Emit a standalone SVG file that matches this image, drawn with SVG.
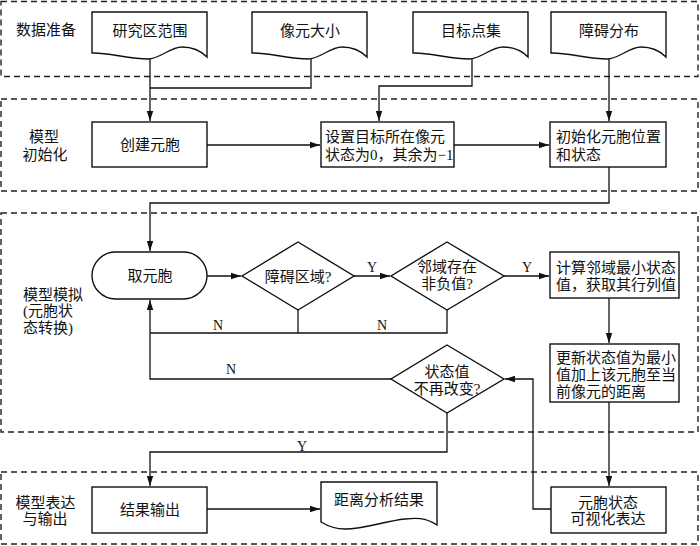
<svg xmlns="http://www.w3.org/2000/svg" width="700" height="546" viewBox="0 0 700 546">
<defs>
<style>
.panel{fill:none;stroke:#222;stroke-width:1.4;stroke-dasharray:6,4}
.box{fill:#fff;stroke:#111;stroke-width:1.4}
.ln{fill:none;stroke:#111;stroke-width:1.3}
.t{font-family:"Liberation Serif","Noto Sans CJK SC",serif;font-size:15px;fill:#111}
.c{text-anchor:middle}
.yn{font-family:"Liberation Serif",serif;font-size:14px;fill:#111;text-anchor:middle}
</style>
<marker id="ar" markerWidth="11" markerHeight="8" refX="10" refY="4" orient="auto" markerUnits="userSpaceOnUse">
<path d="M0,0.8 L10,4 L0,7.2 Z" fill="#111"/>
</marker>
</defs>
<rect width="700" height="546" fill="#fff"/>
<g id="panels">
<rect class="panel" x="1" y="1.5" width="697" height="75"/>
<rect class="panel" x="1" y="99" width="697" height="92"/>
<rect class="panel" x="1" y="213" width="697" height="219"/>
<rect class="panel" x="1" y="472" width="697" height="72"/>
</g>
<g id="labels">
<text class="t c" x="46" y="35">数据准备</text>
<text class="t c" x="44" y="142">模型</text>
<text class="t c" x="45" y="160">初始化</text>
<text class="t" x="23" y="300">模型模拟</text>
<text class="t" x="23" y="316">(元胞状</text>
<text class="t" x="23" y="333">态转换)</text>
<text class="t c" x="45.5" y="508">模型表达</text>
<text class="t c" x="45" y="524">与输出</text>
</g>
<g id="connectors">
<path class="ln" d="M150,58 V121" marker-end="url(#ar)"/>
<path class="ln" d="M311,58 V88 H150"/>
<path class="ln" d="M472,58 V86 H379 V121" marker-end="url(#ar)"/>
<path class="ln" d="M609,58 V121" marker-end="url(#ar)"/>
<path class="ln" d="M207,145 H320" marker-end="url(#ar)"/>
<path class="ln" d="M454,145 H549" marker-end="url(#ar)"/>
<path class="ln" d="M609,167 V203 H150 V251" marker-end="url(#ar)"/>
<path class="ln" d="M207,276 H241" marker-end="url(#ar)"/>
<path class="ln" d="M354,276 H390" marker-end="url(#ar)"/>
<path class="ln" d="M504,276 H549" marker-end="url(#ar)"/>
<path class="ln" d="M298,310 V333"/>
<path class="ln" d="M447,310 V333 H150"/>
<path class="ln" d="M391,379 H150 V300" marker-end="url(#ar)"/>
<path class="ln" d="M609,298 V343" marker-end="url(#ar)"/>
<path class="ln" d="M609,402 V486" marker-end="url(#ar)"/>
<path class="ln" d="M551,509 H533 V379 H505" marker-end="url(#ar)"/>
<path class="ln" d="M447,413 V452 H150 V486" marker-end="url(#ar)"/>
<path class="ln" d="M207,509 H320" marker-end="url(#ar)"/>
<text class="yn" x="372" y="272">Y</text>
<text class="yn" x="527" y="272">Y</text>
<text class="yn" x="218" y="330">N</text>
<text class="yn" x="382" y="330">N</text>
<text class="yn" x="231" y="374">N</text>
<text class="yn" x="302" y="451">Y</text>
</g>
<g id="doc1">
<path class="box" d="M92,12 H207 V57 C200,50 192,47 182,47 C170,47 160,59 148,59 C130,59 105,52 92,53 Z"/>
<text class="t c" x="150" y="36">研究区范围</text>
</g>
<g id="doc2">
<path class="box" d="M252,12 H367 V57 C360,50 352,47 342,47 C330,47 320,59 308,59 C290,59 265,52 252,53 Z"/>
<text class="t c" x="310" y="36">像元大小</text>
</g>
<g id="doc3">
<path class="box" d="M413,12 H528 V57 C521,50 513,47 503,47 C491,47 481,59 469,59 C451,59 426,52 413,53 Z"/>
<text class="t c" x="471" y="36">目标点集</text>
</g>
<g id="doc4">
<path class="box" d="M551,12 H666 V57 C659,50 651,47 641,47 C629,47 619,59 607,59 C589,59 564,52 551,53 Z"/>
<text class="t c" x="609" y="36">障碍分布</text>
</g>
<g id="create">
<rect class="box" x="92" y="122" width="115" height="45"/>
<text class="t c" x="150" y="150">创建元胞</text>
</g>
<g id="settarget">
<rect class="box" x="321" y="122" width="133" height="45"/>
<text class="t" x="325" y="142">设置目标所在像元</text>
<text class="t" x="325" y="160">状态为0，其余为−1</text>
</g>
<g id="init">
<rect class="box" x="550" y="122" width="116" height="45"/>
<text class="t" x="556" y="142">初始化元胞位置</text>
<text class="t" x="556" y="160">和状态</text>
</g>
<g id="take">
<rect class="box" x="92" y="252" width="115" height="47" rx="23.5" ry="23.5"/>
<text class="t c" x="150" y="281">取元胞</text>
</g>
<g id="obstacle">
<path class="box" d="M298,242 L354,276 L298,310 L242,276 Z"/>
<text class="t c" x="298" y="282">障碍区域?</text>
</g>
<g id="neighbor">
<path class="box" d="M447,242 L504,276 L447,310 L391,276 Z"/>
<text class="t c" x="447" y="272">邻域存在</text>
<text class="t c" x="447" y="289">非负值?</text>
</g>
<g id="calc">
<rect class="box" x="550" y="252" width="129" height="46"/>
<text class="t" x="556" y="273">计算邻域最小状态</text>
<text class="t" x="556" y="290">值，获取其行列值</text>
</g>
<g id="update">
<rect class="box" x="550" y="344" width="129" height="58"/>
<text class="t" x="556" y="363">更新状态值为最小</text>
<text class="t" x="556" y="380">值加上该元胞至当</text>
<text class="t" x="556" y="397">前像元的距离</text>
</g>
<g id="unchanged">
<path class="box" d="M447,345 L504,379 L447,413 L391,379 Z"/>
<text class="t c" x="447" y="377">状态值</text>
<text class="t c" x="447" y="394">不再改变?</text>
</g>
<g id="output">
<rect class="box" x="92" y="487" width="115" height="46"/>
<text class="t c" x="150" y="515">结果输出</text>
</g>
<g id="result">
<path class="box" d="M321,482 H437 V525 C425,517 415,518 405,519 C385,521 365,529 345,529 C335,529 326,525 321,522 Z"/>
<text class="t c" x="379" y="505">距离分析结果</text>
</g>
<g id="visual">
<rect class="box" x="551" y="487" width="115" height="46"/>
<text class="t c" x="608" y="508">元胞状态</text>
<text class="t c" x="608" y="524">可视化表达</text>
</g>
</svg>
